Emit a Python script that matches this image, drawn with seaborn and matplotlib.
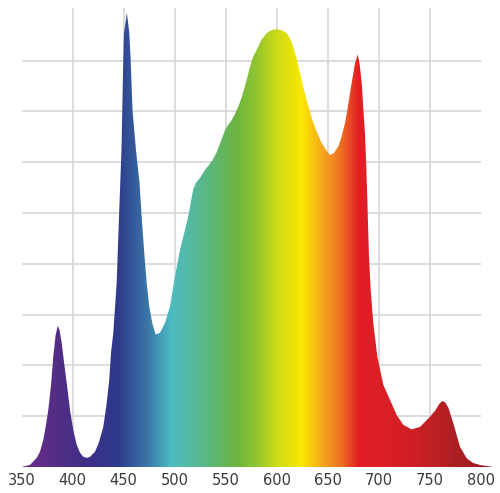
import matplotlib
matplotlib.use("Agg")
import matplotlib.pyplot as plt
import numpy as np
import pandas as pd
import seaborn as sns
from matplotlib.colors import LinearSegmentedColormap

# spectrum (wavelength nm, relative intensity in grid units)
wavelength = [
    350.0, 351.8, 358.3, 364.9, 368.1, 371.3, 374.0, 376.2, 378.9, 381.1,
    383.3, 385.5, 387.2, 389.4, 391.6, 394.3, 397.5, 400.7, 403.9, 407.3,
    410.7, 413.9, 417.1, 422.0, 425.9, 430.1, 433.2, 435.9, 437.7, 439.9,
    443.2, 445.5, 447.9, 448.7, 449.7, 450.4, 453.2, 455.6, 456.9, 458.7,
    462.1, 465.6, 467.7, 470.0, 472.6, 475.2, 478.1, 481.4, 485.6, 490.5,
    495.4, 500.3, 505.2, 510.1, 513.5, 515.7, 518.2, 521.0, 524.8, 529.7,
    532.9, 537.1, 541.2, 545.4, 549.3, 552.3, 555.9, 559.1, 562.3, 566.4,
    570.5, 573.8, 576.7, 580.3, 585.0, 590.1, 594.8, 599.9, 604.6, 609.7,
    613.0, 616.2, 619.3, 622.7, 626.0, 629.3, 632.5, 635.8, 639.9, 644.0,
    648.2, 652.1, 656.0, 660.3, 663.4, 666.8, 669.3, 671.7, 674.2, 676.6,
    679.3, 681.3, 683.2, 684.7, 686.4, 687.6, 688.7, 689.5, 690.3, 692.0,
    694.5, 698.5, 704.3, 710.9, 717.5, 723.9, 732.1, 740.3, 750.1, 755.5,
    759.0, 762.1, 765.0, 768.0, 772.9, 779.4, 786.0, 792.2, 799.0, 812.0,
]
intensity = [
    0.00, 0.01, 0.04, 0.18, 0.30, 0.53, 0.83, 1.12, 1.61, 2.17,
    2.58, 2.78, 2.70, 2.44, 2.07, 1.65, 1.12, 0.73, 0.45, 0.28,
    0.20, 0.18, 0.20, 0.30, 0.49, 0.79, 1.22, 1.71, 2.26, 2.64,
    3.62, 4.92, 6.24, 7.03, 8.01, 8.54, 8.94, 8.54, 8.01, 7.03,
    6.24, 5.59, 4.92, 4.27, 3.62, 3.15, 2.83, 2.61, 2.64, 2.83,
    3.16, 3.75, 4.27, 4.67, 4.95, 5.20, 5.47, 5.60, 5.69, 5.85,
    5.93, 6.04, 6.20, 6.42, 6.63, 6.73, 6.83, 6.95, 7.09, 7.32,
    7.62, 7.88, 8.07, 8.21, 8.41, 8.54, 8.60, 8.62, 8.60, 8.54,
    8.44, 8.27, 8.05, 7.76, 7.48, 7.22, 6.99, 6.77, 6.56, 6.38,
    6.24, 6.14, 6.18, 6.31, 6.50, 6.77, 7.05, 7.36, 7.66, 7.95,
    8.12, 7.91, 7.56, 7.07, 6.57, 5.94, 5.26, 4.67, 4.14, 3.48,
    2.83, 2.17, 1.62, 1.32, 1.02, 0.83, 0.74, 0.79, 0.99, 1.12,
    1.24, 1.30, 1.27, 1.17, 0.86, 0.40, 0.17, 0.08, 0.04, 0.00,
]

tick_values = [350, 400, 450, 500, 550, 600, 650, 700, 750, 800]

# colour of the fill at each wavelength
color_stops = [350, 380, 415, 443, 473, 495, 525, 560, 580, 598, 624, 644, 664, 680, 725, 774, 800, 819]
stop_colors = [
    "#6b2d8c", "#552d85", "#3e3088", "#2e3a8c", "#3b78a8", "#4cbcc2",
    "#58b88e", "#6db43e", "#92c631", "#c9da18", "#fbe800", "#f6a81c",
    "#ec6b22", "#e31d25", "#d42026", "#ae1f23", "#9d1c20", "#941b1f",
]

W, H = 500, 493
X_MIN, X_MAX = 350, 350 + 478.5 / 1.0211
Y_TOP = 9.035

sns.set_style("white")
plt.rcParams["font.family"] = ["DejaVu Sans"]

fig = plt.figure(figsize=(W / 100, H / 100), dpi=100)
ax = fig.add_axes([21.5 / W, (H - 467) / H, (W - 21.5) / W, (467 - 8) / H])

df = pd.DataFrame({"wavelength": wavelength, "intensity": intensity})
sns.lineplot(data=df, x="wavelength", y="intensity", ax=ax, sort=False,
             color="#e31d25", linewidth=0, zorder=3)

# grid
grid_color = "#d6d6d6"
ax.vlines(tick_values[1:-1], 0, Y_TOP, color=grid_color, linewidth=1.2, zorder=1)
ax.hlines(range(1, 9), 350, 800, color=grid_color, linewidth=1.2, zorder=1)

# gradient fill clipped to the spectrum
fill = ax.fill_between(df["wavelength"], df["intensity"], 0, color="none", linewidth=0, zorder=2)
positions = [(c - color_stops[0]) / (color_stops[-1] - color_stops[0]) for c in color_stops]
cmap = LinearSegmentedColormap.from_list("spectrum", list(zip(positions, stop_colors)))
grad_x = np.linspace(color_stops[0], color_stops[-1], 800)
img = ax.imshow(grad_x[np.newaxis, :], extent=(color_stops[0], color_stops[-1], 0, Y_TOP),
                cmap=cmap, aspect="auto", origin="lower", zorder=2, interpolation="bilinear")
path = fill.get_paths()[0]
img.set_clip_path(path, transform=ax.transData)

ax.set_xlim(X_MIN, X_MAX)
ax.set_ylim(0, Y_TOP)
ax.set_xticks(tick_values)
ax.set_xticklabels([str(t) for t in tick_values], fontsize=10.5, color="#3a3a3a")
ax.set_yticks([])
ax.tick_params(axis="x", length=0, pad=4)
ax.set_xlabel("")
ax.set_ylabel("")
for side in ["top", "right", "left", "bottom"]:
    ax.spines[side].set_visible(False)

fig.savefig("out.png", dpi=100)
plt.close(fig)
